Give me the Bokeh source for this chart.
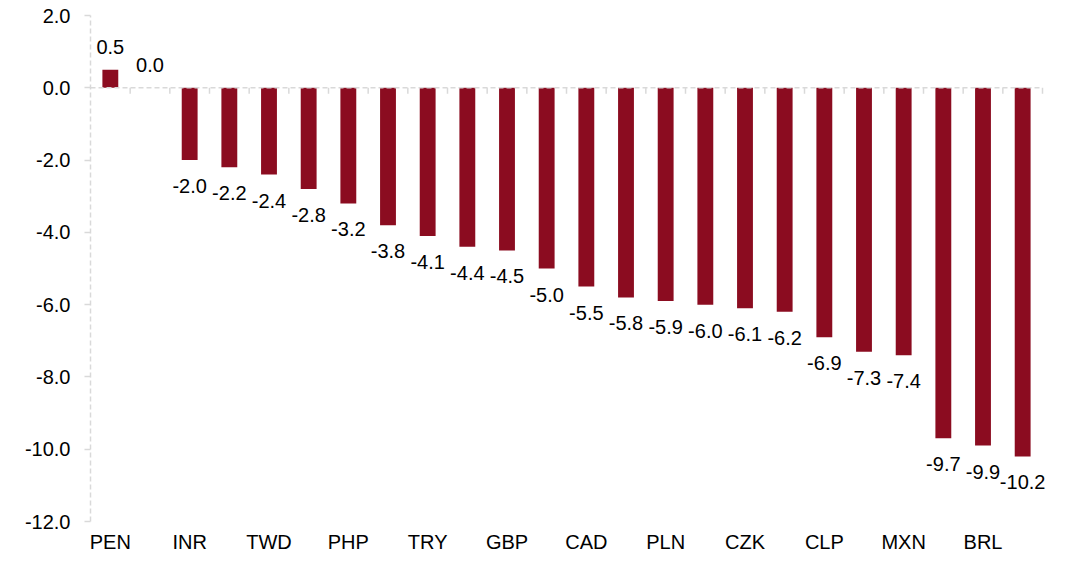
from bokeh.plotting import figure
from bokeh.models import (FixedTicker, NumeralTickFormatter, ColumnDataSource,
                          Range1d, LabelSet)
from bokeh.core.properties import value
from bokeh.embed import file_html
from bokeh.resources import INLINE

# ---- data ----
labels = ["PEN", "", "INR", "", "TWD", "", "PHP", "", "TRY", "", "GBP", "",
          "CAD", "", "PLN", "", "CZK", "", "CLP", "", "MXN", "", "BRL", ""]
values = [0.5, 0.0, -2.0, -2.2, -2.4, -2.8, -3.2, -3.8, -4.1, -4.4, -4.5, -5.0,
          -5.5, -5.8, -5.9, -6.0, -6.1, -6.2, -6.9, -7.3, -7.4, -9.7, -9.9, -10.2]
y_ticks = [-12, -10, -8, -6, -4, -2, 0, 2]

BAR = "#8B0C20"
GRAY = "#d9d9d9"
FONT = "Liberation Sans"

W, H = 1055, 555
ML, MT, MB = 90, 15, 32
AXIS_W = 952          # pixel width covered by the categories
EXTRA = 12            # extra frame room on the right for the last label
MR = W - ML - AXIS_W - EXTRA
frame_h = H - MT - MB
y_lo, y_hi = -12, 2
px_per_unit = frame_h / (y_hi - y_lo)

n = len(values)
cat_px = AXIS_W / n
xs = list(range(n))
src = ColumnDataSource(dict(
    x=xs, top=values,
    txt=[f"{v:.1f}" for v in values],
    yoff=[16 if v >= 0 else -33 for v in values],
))

p = figure(width=W, height=H, output_backend="svg", toolbar_location=None,
           x_range=Range1d(-0.5, n - 0.5 + EXTRA / cat_px),
           y_range=Range1d(y_lo, y_hi))
p.min_border_left = ML
p.min_border_right = MR
p.min_border_top = MT
p.min_border_bottom = MB
p.outline_line_color = None
p.xgrid.visible = False
p.ygrid.visible = False
p.background_fill_color = "white"
p.border_fill_color = "white"

p.vbar(x="x", top="top", bottom=0, width=0.4, source=src,
       fill_color=BAR, line_color=None)

p.add_layout(LabelSet(x="x", y="top", text="txt", y_offset="yoff", source=src,
                      text_align="center", text_baseline="alphabetic",
                      text_font=value(FONT), text_font_size=value("20px"),
                      text_color="black"))

# zero line across the categories
p.segment(x0=[-0.5], y0=[0], x1=[n - 0.5], y1=[0], line_color=GRAY,
          line_width=1.5, line_dash="5 3")
# tick marks at category boundaries along zero line
bounds = [i - 0.5 for i in range(1, n + 1)]
p.segment(x0=bounds, y0=[0] * n, x1=bounds, y1=[-6 / px_per_unit] * n,
          line_color=GRAY, line_width=1.5)

# x axis (labels only)
xa = p.xaxis[0]
xa.ticker = FixedTicker(ticks=xs)
xa.major_label_overrides = {i: labels[i] for i in xs}
xa.axis_line_color = None
xa.major_tick_line_color = None
xa.major_tick_out = 0
xa.major_tick_in = 0
xa.minor_tick_line_color = None
xa.minor_tick_out = 0
xa.major_label_standoff = 9
xa.major_label_text_font = FONT
xa.major_label_text_font_size = "20px"
xa.major_label_text_color = "black"

# y axis
ya = p.yaxis[0]
ya.ticker = FixedTicker(ticks=y_ticks)
ya.formatter = NumeralTickFormatter(format="0.0")
ya.axis_line_color = GRAY
ya.axis_line_dash = "5 3"
ya.axis_line_width = 1.5
ya.major_tick_line_color = GRAY
ya.major_tick_line_width = 1.5
ya.major_tick_in = 0
ya.major_tick_out = 6
ya.minor_tick_line_color = None
ya.major_label_standoff = 14
ya.major_label_text_font = FONT
ya.major_label_text_font_size = "20px"
ya.major_label_text_color = "black"

open("out.html", "w").write(file_html(p, INLINE))
